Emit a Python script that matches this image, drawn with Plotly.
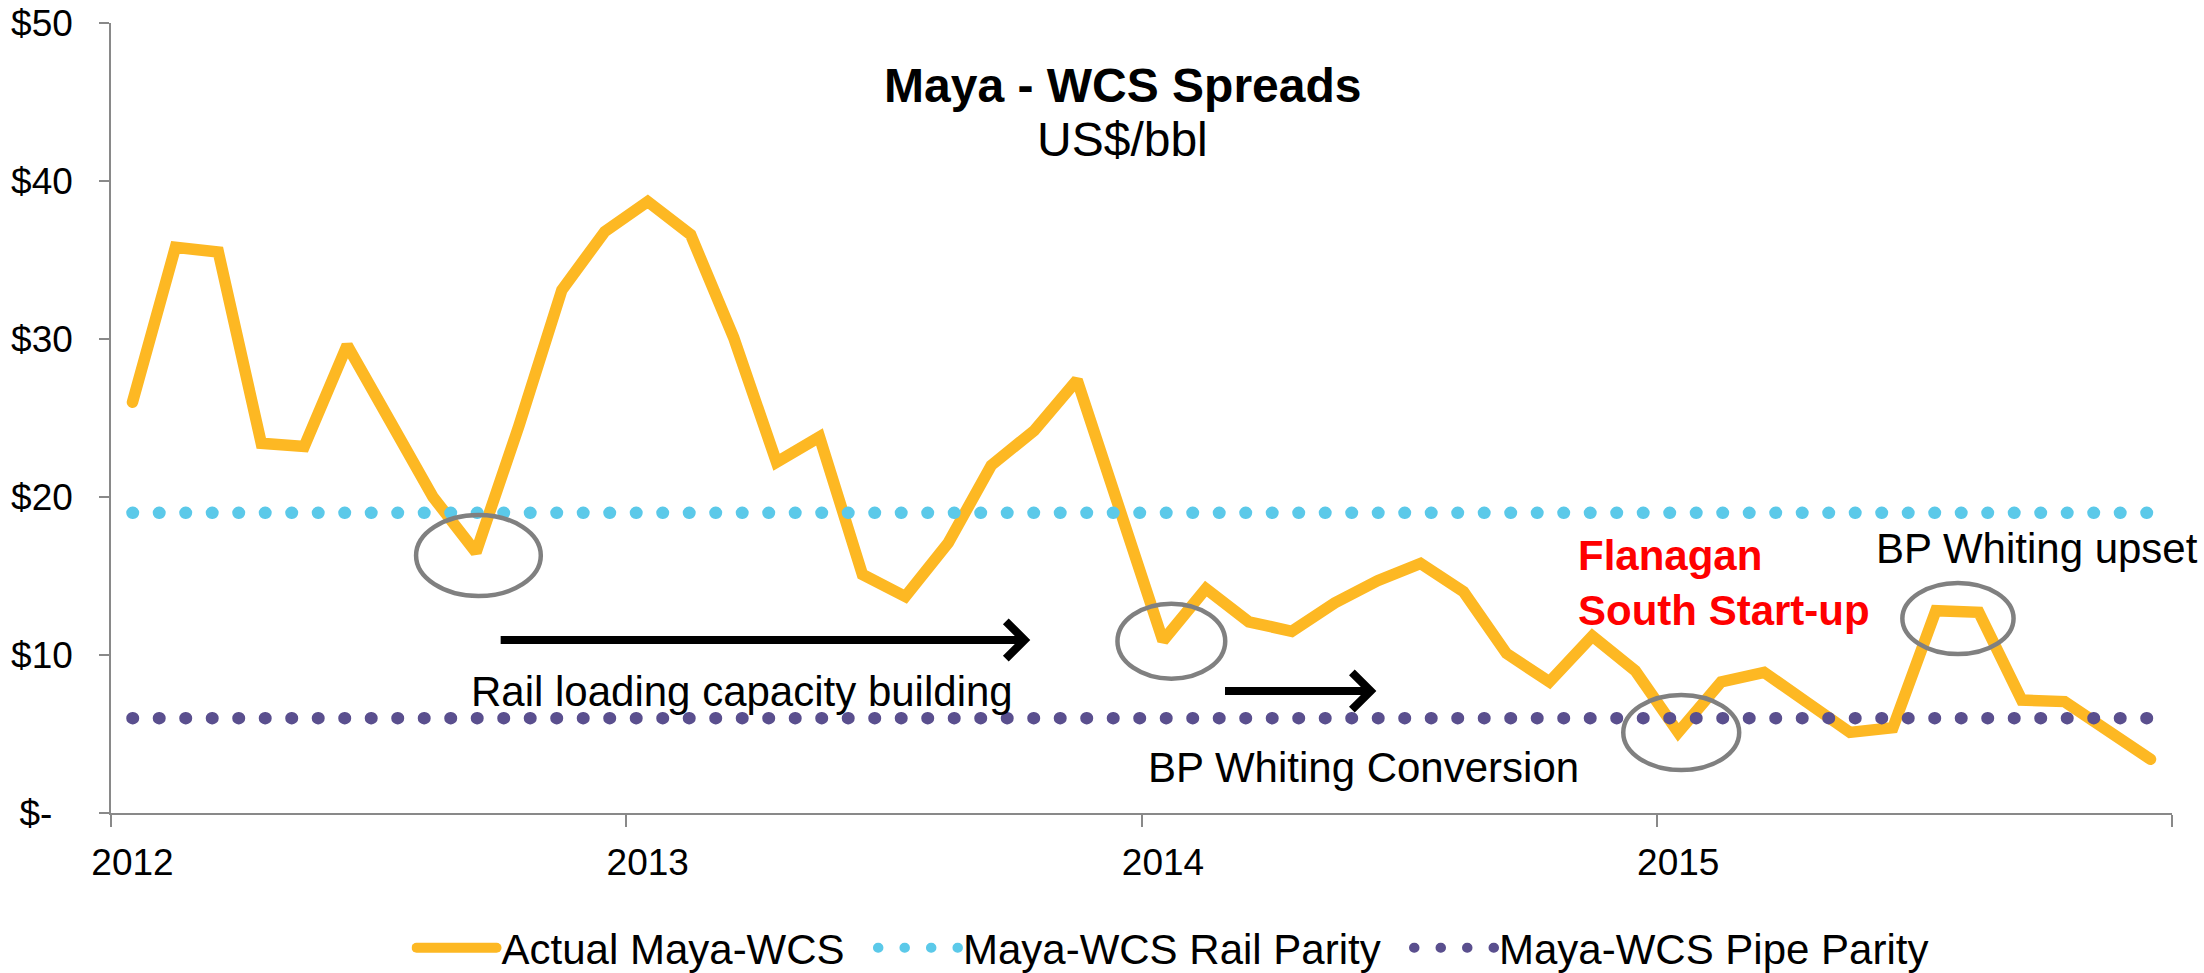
import plotly.graph_objects as go

# ---------------- data ----------------
years = ["2012", "2013", "2014", "2015"]
months = [f"{y}-{m:02d}" for y in years for m in range(1, 13)]
month_idx = list(range(len(months)))

actual_maya_wcs = [
    26.0, 35.8, 35.5, 23.4, 23.2, 29.6, 24.8, 20.0, 16.5, 24.5, 33.1, 36.8,
    38.7, 36.6, 30.1, 22.2, 23.8, 15.1, 13.7, 17.1, 22.0, 24.2, 27.4, 19.4,
    10.9, 14.2, 12.1, 11.5, 13.3, 14.7, 15.8, 14.0, 10.1, 8.3, 11.2, 9.0,
    5.1, 8.3, 8.9, 7.0, 5.1, 5.4, 12.8, 12.7, 7.15, 7.05, 5.25, 3.4,
]
rail_parity = [19.0] * 48
pipe_parity = [6.0] * 48

y_ticks = [0, 10, 20, 30, 40, 50]
y_tick_text = ["$-\u00a0\u00a0", "$10", "$20", "$30", "$40", "$50"]
year_label_pos = [0, 12, 24, 36]
year_boundaries = [-0.5, 11.5, 23.5, 35.5, 47.5]

# ---------------- style ----------------
FONT = "Liberation Sans, Arial, sans-serif"
ORANGE = "#FDB823"
RAIL = "#5BC9E9"
PIPE = "#5A4F8E"
GRAY = "#898989"
ELLIPSE = "#808080"
NB = "\u00a0"

fig = go.Figure()
fig.add_trace(go.Scatter(x=month_idx, y=actual_maya_wcs, mode="lines",
                         name="Actual Maya-WCS" + NB * 2,
                         line=dict(color=ORANGE, width=11.5)))
fig.add_trace(go.Scatter(x=month_idx, y=rail_parity, mode="lines",
                         name="Maya-WCS Rail Parity" + NB * 2,
                         line=dict(color=RAIL, width=12.5, dash="0.5px,26px")))
fig.add_trace(go.Scatter(x=month_idx, y=pipe_parity, mode="lines",
                         name="Maya-WCS Pipe Parity",
                         line=dict(color=PIPE, width=12.5, dash="0.5px,26px")))

annotations = [
    dict(text="<b>Maya - WCS Spreads</b>", xref="paper", yref="paper",
         x=0.491, y=0.9206, xanchor="center", yanchor="middle",
         showarrow=False, font=dict(size=48, color="black", family=FONT)),
    dict(text="US$/bbl", xref="paper", yref="paper",
         x=0.491, y=0.853, xanchor="center", yanchor="middle",
         showarrow=False, font=dict(size=48, color="black", family=FONT)),
    dict(text="Rail loading capacity building", x=7.83, y=7.72,
         xanchor="left", yanchor="middle", showarrow=False,
         font=dict(size=42, color="black", family=FONT)),
    dict(text="BP Whiting Conversion", x=23.61, y=2.88,
         xanchor="left", yanchor="middle", showarrow=False,
         font=dict(size=42, color="black", family=FONT)),
    dict(text="<b>Flanagan<br>South Start-up</b>", x=33.63, y=14.56,
         xanchor="left", yanchor="middle", align="left", showarrow=False,
         font=dict(size=42, color="#FF0000", family=FONT)),
    dict(text="BP Whiting upset", x=40.57, y=16.71,
         xanchor="left", yanchor="middle", showarrow=False,
         font=dict(size=42, color="black", family=FONT)),
    # arrows
    dict(x=20.91, y=10.95, ax=8.54, ay=10.95, xref="x", yref="y",
         axref="x", ayref="y", text="", showarrow=True, arrowhead=4,
         arrowsize=0.9, arrowwidth=8, arrowcolor="black", standoff=0),
    dict(x=28.97, y=7.72, ax=25.41, ay=7.72, xref="x", yref="y",
         axref="x", ayref="y", text="", showarrow=True, arrowhead=4,
         arrowsize=0.9, arrowwidth=8, arrowcolor="black", standoff=0),
]

ellipses = [
    (6.605, 9.51, 13.73, 18.86),
    (22.94, 25.45, 8.50, 13.25),
    (34.72, 37.42, 2.72, 7.47),
    (41.22, 43.81, 10.06, 14.56),
]
shapes = [dict(type="circle", xref="x", yref="y", x0=a, x1=b, y0=c, y1=d,
               line=dict(color=ELLIPSE, width=4.5), fillcolor="rgba(0,0,0,0)")
          for a, b, c, d in ellipses]

fig.update_layout(
    width=2204, height=973,
    margin=dict(l=111, r=32, t=23, b=160, autoexpand=False),
    paper_bgcolor="white", plot_bgcolor="white",
    font=dict(family=FONT, color="black"),
    showlegend=True,
    legend=dict(orientation="h", xref="container", yref="container",
                x=0.532, xanchor="center", y=0.0257, yanchor="middle",
                font=dict(size=42, family=FONT, color="black"),
                itemwidth=80, bgcolor="rgba(0,0,0,0)"),
    annotations=annotations,
    shapes=shapes,
)
fig.update_xaxes(range=[-0.5, 47.5], tickmode="array", tickvals=year_label_pos,
                 ticktext=years, ticks="", showline=True, linecolor=GRAY,
                 linewidth=1.5, showgrid=False, zeroline=False, automargin=False,
                 tickfont=dict(size=37, family=FONT, color="black"),
                 ticklabelstandoff=16,
                 minor=dict(tickmode="array", tickvals=year_boundaries,
                            ticks="outside", ticklen=12, tickwidth=1.5,
                            tickcolor=GRAY, showgrid=False))
fig.update_yaxes(range=[0, 50], tickmode="array", tickvals=y_ticks,
                 ticktext=y_tick_text, ticks="outside", ticklen=10,
                 tickwidth=1.5, tickcolor=GRAY, showline=True, linecolor=GRAY,
                 linewidth=1.5, showgrid=False, zeroline=False, automargin=False,
                 tickfont=dict(size=37, family=FONT, color="black"),
                 ticklabelstandoff=19)

post = """
document.documentElement.style.margin = '0';
document.documentElement.style.overflow = 'hidden';
document.body.style.margin = '0';
document.body.style.padding = '0';
document.body.style.overflow = 'hidden';
var gd = document.getElementById('{plot_id}');
function roundCaps(){
  document.querySelectorAll('path.js-line').forEach(function(p){
    p.style.strokeLinecap = 'round';
  });
}
roundCaps();
if (gd && gd.on) { gd.on('plotly_afterplot', roundCaps); }
"""
fig.write_html("out.html", config={"displayModeBar": False}, post_script=post)
